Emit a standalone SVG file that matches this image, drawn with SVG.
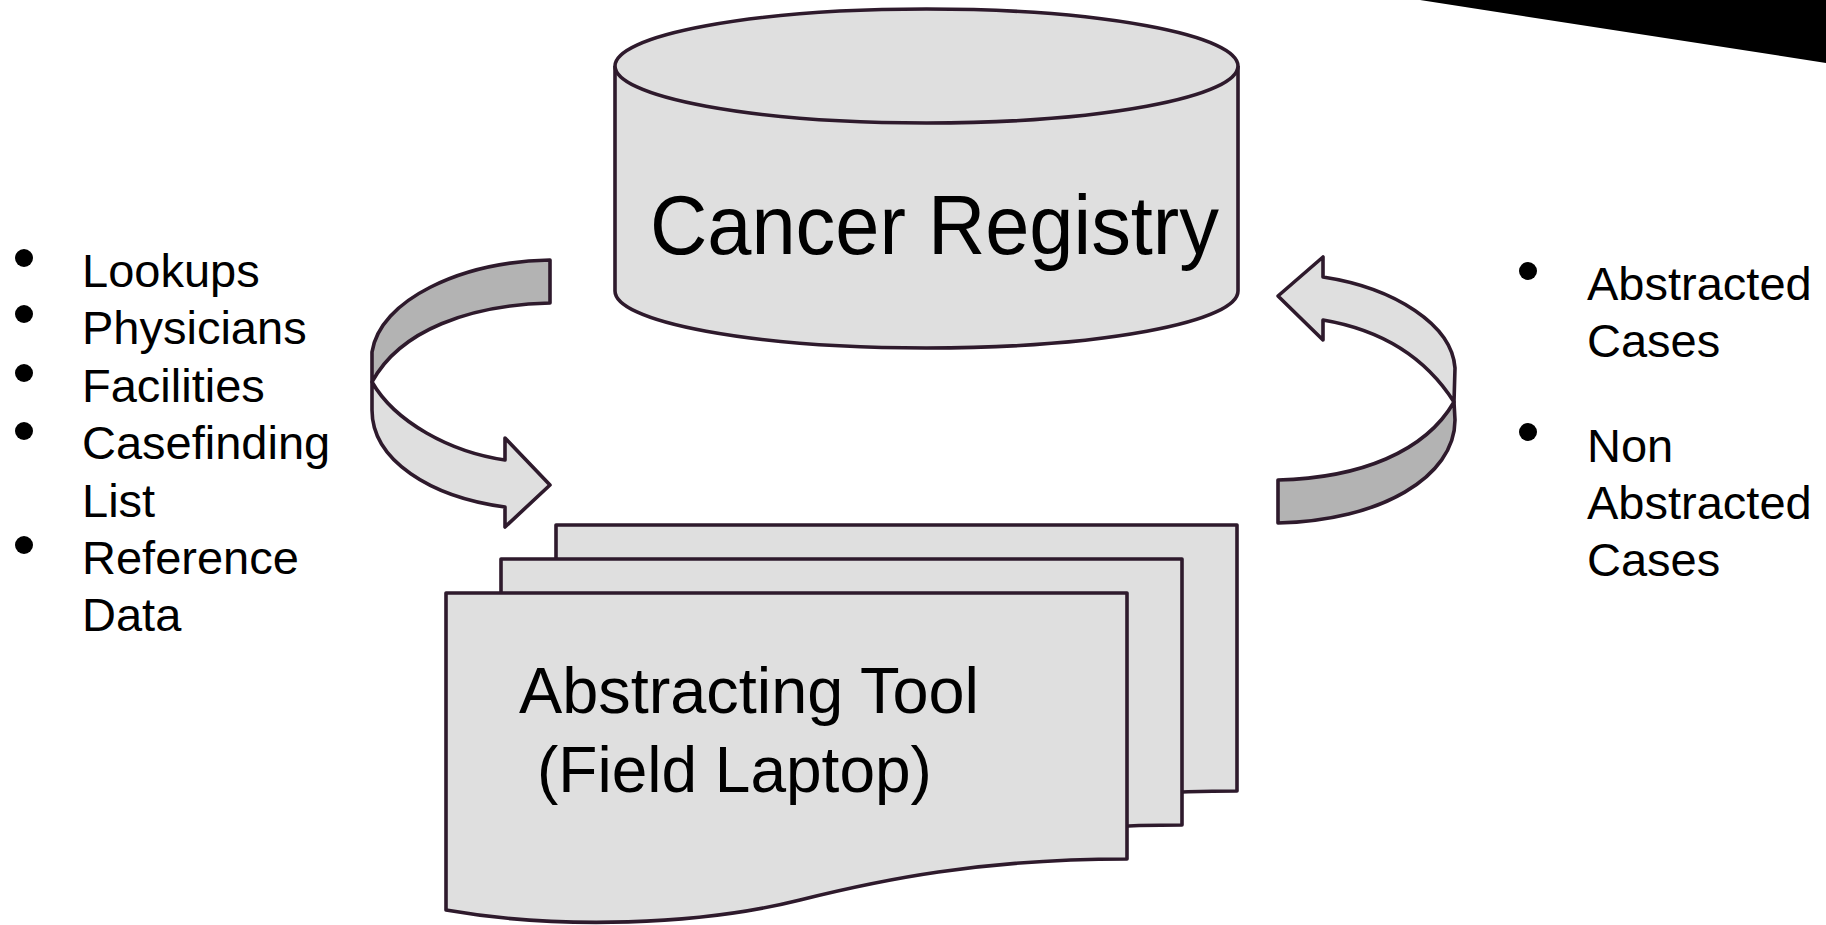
<svg xmlns="http://www.w3.org/2000/svg" width="1826" height="925" viewBox="0 0 1826 925">
<style>
.shape{fill:#dfdfdf;stroke:#2e1a2c;stroke-width:3.6;stroke-linejoin:round}
.dark{fill:#b3b3b3;stroke:#2e1a2c;stroke-width:3.6;stroke-linejoin:round}
.t{font-family:"Liberation Sans",Arial,sans-serif;fill:#000}
.list{font-size:47px}
</style>
<defs>
<path id="doc" d="M446,593 H1127 V859 C980,859 880,880 800,900 C700,925 560,930 446,910 Z"/>
</defs>
<rect width="1826" height="925" fill="#fff"/>
<polygon points="1420,0 1826,0 1826,63" fill="#000"/>

<g id="cancer-registry">
<path class="shape" d="M615,66 V291 A311.5,57 0 0 0 1238,291 V66"/>
<ellipse class="shape" cx="926.5" cy="66" rx="311.5" ry="57"/>
<text class="t" x="650" y="254" font-size="84" textLength="569" lengthAdjust="spacingAndGlyphs">Cancer Registry</text>
</g>

<g id="abstracting-tool">
<use href="#doc" class="shape" transform="translate(110,-68)"/>
<use href="#doc" class="shape" transform="translate(55,-34)"/>
<use href="#doc" class="shape"/>
<text class="t" x="519" y="713" font-size="64" textLength="460" lengthAdjust="spacingAndGlyphs">Abstracting Tool</text>
<text class="t" x="537" y="792" font-size="64">(Field Laptop)</text>
</g>

<g id="connectors">
<g id="arrow-left">
<path class="dark" d="M550,260 C460,262 380,300 372,352 L372,382 C400,330 470,305 550,303 Z"/>
<path class="shape" d="M372,382 C395,422 450,452 505,460 L505,438 L550,485 L505,527 L505,507 C430,497 372,460 372,410 Z"/>
</g>
<g id="arrow-right">
<path class="dark" d="M1454,402 C1425,452 1360,478 1278,480 L1278,523 C1380,521 1455,477 1455,420 Z"/>
<path class="shape" d="M1323,277 C1395,288 1452,325 1455,368 L1454,402 C1426,358 1382,330 1323,320 L1323,340 L1278,296 L1323,257 Z"/>
</g>
</g>

<g id="left-list" class="t list">
<circle cx="24" cy="258" r="9"/>
<circle cx="24" cy="314" r="9"/>
<circle cx="24" cy="373" r="9"/>
<circle cx="24" cy="431" r="9"/>
<circle cx="24" cy="545" r="9"/>
<text x="82" y="287">Lookups</text>
<text x="82" y="344">Physicians</text>
<text x="82" y="402">Facilities</text>
<text x="82" y="459">Casefinding</text>
<text x="82" y="517">List</text>
<text x="82" y="574">Reference</text>
<text x="82" y="631">Data</text>
</g>

<g id="right-list" class="t list">
<circle cx="1528" cy="271" r="9"/>
<circle cx="1528" cy="432" r="9"/>
<text x="1587" y="300">Abstracted</text>
<text x="1587" y="357">Cases</text>
<text x="1587" y="462">Non</text>
<text x="1587" y="519">Abstracted</text>
<text x="1587" y="576">Cases</text>
</g>
</svg>
